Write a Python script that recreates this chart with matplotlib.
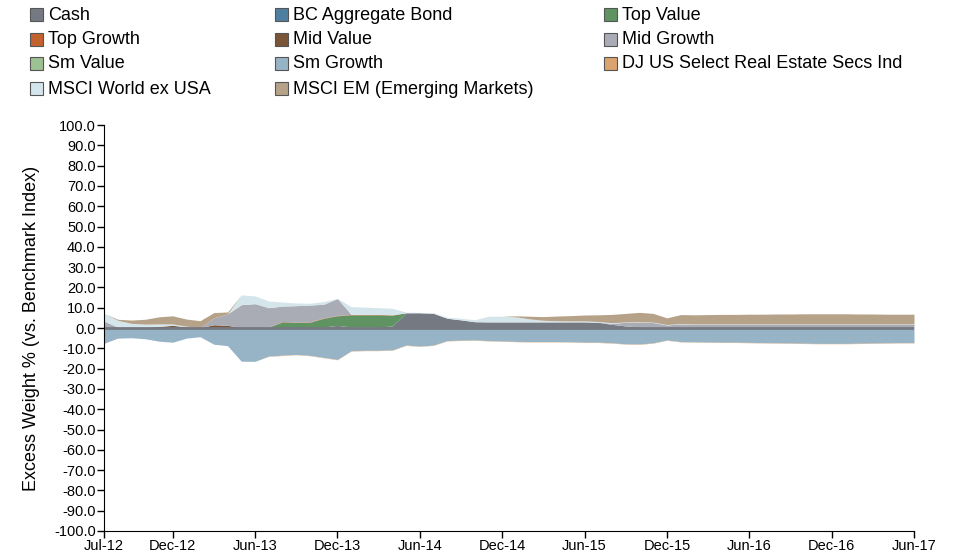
import numpy as np
import matplotlib.pyplot as plt
from matplotlib.patches import Rectangle

plt.rcParams['font.family'] = ['Liberation Sans', 'DejaVu Sans']

# --------------------------
# Data (monthly, Jul-12 .. Jun-17), excess weight in %
# --------------------------
series_names = ['Cash', 'BC Aggregate Bond', 'Top Value', 'Top Growth', 'Mid Value',
                'Mid Growth', 'Sm Value', 'Sm Growth', 'DJ US Select Real Estate Secs Ind',
                'MSCI World ex USA', 'MSCI EM (Emerging Markets)']
colors = ['#757982', '#4f7fa0', '#5f9362', '#c4622d', '#7a5537',
          '#a9acb4', '#9dc292', '#97b4c7', '#dba46f', '#d5e5ec', '#b6a288']

tick_pos = [0, 5, 11, 17, 23, 29, 35, 41, 47, 53, 59]
tick_labels = ['Jul-12', 'Dec-12', 'Jun-13', 'Dec-13', 'Jun-14', 'Dec-14',
               'Jun-15', 'Dec-15', 'Jun-16', 'Dec-16', 'Jun-17']

cash = [0, 0, 0, 0, 0, 0, 0, 0, 0, 0, 0, 0, 0, 0, 0, 0, 0.5, 1.3, 0.5, 0.5,
        0.5, 1.0, 7.5, 7.5, 7.2, 4.8, 4.0, 3.1, 3.0, 3.0, 3.0, 3.0, 3.0, 3.0, 3.0, 3.0,
        2.8, 1.8, 1.0, 0.5, 0.5, 0.5, 0.5, 0.5, 0.5, 0.5, 0.5, 0.5, 0.5, 0.5,
        0.5, 0.5, 0.5, 0.5, 0.5, 0.5, 0.5, 0.5, 0.5, 0.5]
bc_agg_bond = [0] * 60
top_value = [0] * 12 + [0.5, 3.0, 2.7, 2.8, 4.3, 4.7, 6.0, 6.0, 6.0, 5.3] + [0] * 38
top_growth = [0] * 13 + [0.2] * 9 + [0] * 38
mid_value = [0, 0, 0, 0.3, 0.8, 1.3, 0.6, 0.2, 1.6, 1.3, 0.3] + [0] * 49
mid_growth = ([3.4, 0.5, 0, 0, 0, 0, 0, 0, 3.4, 5.7, 11.2, 12.0, 9.5, 7.6, 8.1, 8.3, 6.7, 8.3]
              + [0] * 19 + [0.5, 1.8, 2.4, 2.2, 1.0, 1.5] + [1.3] * 17)
sm_value = [0] * 60
sm_growth = [-7.5, -5.0, -4.8, -5.3, -6.5, -7.0, -5.0, -4.3, -8.0, -8.7,
             -16.4, -16.4, -13.8, -13.4, -13.0, -13.5, -14.5, -15.5, -11.2, -11.0,
             -11.0, -10.8, -8.4, -8.9, -8.4, -6.2, -6.0, -5.9, -6.2, -6.4,
             -6.6, -6.7, -6.7, -6.7, -6.8, -7.0, -7.0, -7.3, -7.8, -7.9,
             -7.3, -5.9, -6.7, -6.8, -6.9, -7.0, -7.0, -7.1, -7.2, -7.3,
             -7.4, -7.5, -7.6, -7.6, -7.6, -7.5, -7.4, -7.3, -7.2, -7.2]
dj_real_estate = [0] * 12 + [-0.15] * 48
msci_world = [3.8, 3.3, 2.3, 1.6, 1.2, 0.7, 0.3, 0, 0, 0,
              4.8, 3.8, 3.3, 2.0, 1.3, 0.9, 1.3, 0.1, 3.8, 3.6,
              3.3, 3.2, 0.3, 0.2, 0.3, 0.5, 0.8, 1.0, 2.8, 2.8,
              2.5, 1.5, 0.8, 0.6, 0.5, 0.5, 0.4, 0.3] + [0.2] * 22
msci_em = ([0, 0.5, 1.6, 2.4, 3.5, 4.0, 3.5, 3.4, 2.6, 0.9] + [0] * 20
           + [0.5, 1.3, 1.8, 2.3, 2.6, 2.9, 3.3, 4.1, 4.2, 4.6,
              4.3, 3.3, 4.4, 4.5, 4.6, 4.7, 4.7, 4.8, 4.8, 4.9,
              4.9, 5.0, 5.0, 5.0, 5.0, 4.9, 4.9, 4.8, 4.8, 4.8])

values = np.array([cash, bc_agg_bond, top_value, top_growth, mid_value, mid_growth,
                   sm_value, sm_growth, dj_real_estate, msci_world, msci_em], dtype=float)
x = np.arange(values.shape[1])

# --------------------------
# Figure
# --------------------------
fig = plt.figure(figsize=(9.54, 5.58), dpi=100)
ax = fig.add_axes([104 / 954, 1 - 531 / 558, 810 / 954, 406 / 558])

# diverging stack: positives upward, negatives downward
pos_base = np.zeros(len(x))
neg_base = np.zeros(len(x))
for vals, col in zip(values, colors):
    pos = np.clip(vals, 0, None)
    neg = np.clip(vals, None, 0)
    if pos.any():
        ax.fill_between(x, pos_base, pos_base + pos, color=col, linewidth=0)
        pos_base = pos_base + pos
    if neg.any():
        ax.fill_between(x, neg_base, neg_base + neg, color=col, linewidth=0)
        neg_base = neg_base + neg

ax.axhline(0, color='#757982', linewidth=2)

ax.set_xlim(0, len(x) - 1)
ax.set_ylim(-100, 100)
ax.set_yticks(np.arange(-100, 101, 10))
ax.set_yticklabels([f'{v:.1f}' for v in np.arange(-100, 101, 10)], fontsize=10.5)
ax.set_xticks(tick_pos)
ax.set_xticklabels(tick_labels, fontsize=10.5)
ax.tick_params(length=5, width=1, color='black', pad=1)
ax.spines['top'].set_visible(False)
ax.spines['right'].set_visible(False)
ax.set_ylabel('Excess Weight % (vs. Benchmark Index)', fontsize=13, labelpad=10)

# legend, laid out in 3 columns
col_x = [30, 275, 604]
row_y = [14, 39, 63, 88]
for k, (name, col) in enumerate(zip(series_names, colors)):
    r, c = divmod(k, 3)
    px, py = col_x[c], row_y[r]
    fig.patches.append(Rectangle((px / 954, 1 - (py + 7) / 558), 13 / 954, 13 / 558,
                                 facecolor=col, edgecolor='#555555', linewidth=0.8,
                                 transform=fig.transFigure))
    fig.text((px + 18) / 954, 1 - (py + 1) / 558, name, fontsize=13, va='center', ha='left')

plt.savefig('out.png', dpi=100)
